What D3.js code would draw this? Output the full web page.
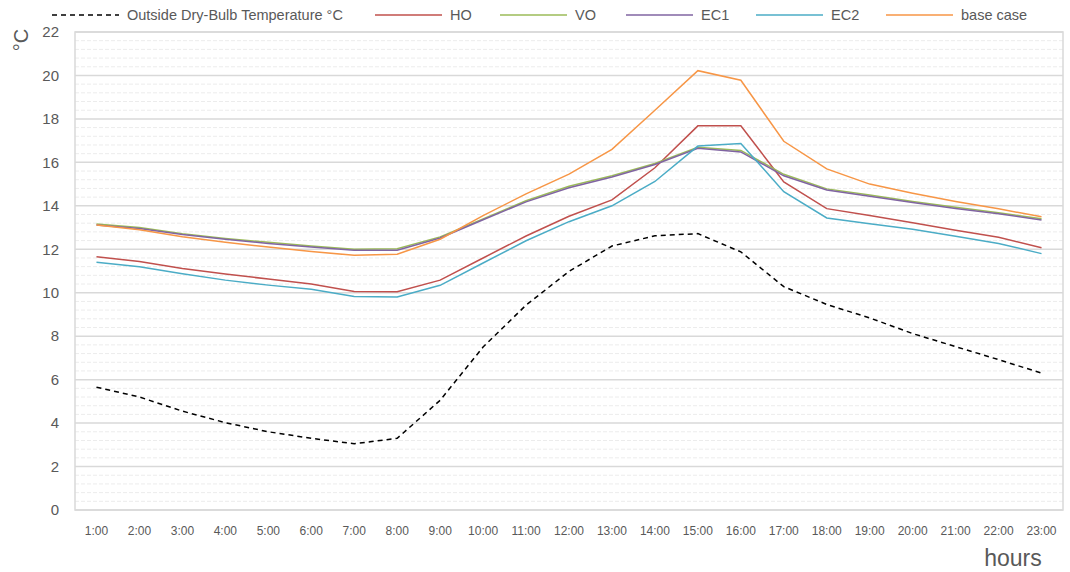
<!DOCTYPE html>
<html>
<head>
<meta charset="utf-8">
<script src="https://cdn.jsdelivr.net/npm/d3@7"></script>
<style>
  body { margin: 0; background: #fff; }
  text { font-family: "Liberation Sans", Arial, sans-serif; fill: #595959; }
</style>
</head>
<body>
<script>
var width = 1070,
    height = 572;

var hours = ["1:00","2:00","3:00","4:00","5:00","6:00","7:00","8:00","9:00","10:00","11:00","12:00",
             "13:00","14:00","15:00","16:00","17:00","18:00","19:00","20:00","21:00","22:00","23:00"];

var outside = [5.65,5.2,4.55,4.02,3.6,3.3,3.05,3.3,5.05,7.5,9.43,10.98,12.15,12.62,12.72,11.88,10.28,9.46,8.84,8.12,7.52,6.92,6.3];
var ho      = [11.66,11.44,11.12,10.86,10.63,10.4,10.06,10.05,10.58,11.6,12.61,13.52,14.27,15.75,17.68,17.68,15.1,13.87,13.55,13.22,12.88,12.55,12.07];
var vo      = [13.16,13.0,12.72,12.5,12.32,12.15,12.0,12.02,12.57,13.4,14.23,14.9,15.38,15.95,16.7,16.55,15.45,14.78,14.5,14.2,13.93,13.68,13.4];
var ec1     = [13.12,12.96,12.68,12.46,12.27,12.1,11.95,11.96,12.52,13.36,14.18,14.83,15.33,15.9,16.65,16.48,15.38,14.73,14.44,14.15,13.88,13.63,13.35];
var ec2     = [11.4,11.2,10.87,10.58,10.35,10.16,9.83,9.8,10.34,11.37,12.39,13.27,14.0,15.12,16.75,16.87,14.65,13.44,13.18,12.92,12.6,12.27,11.8];
var base    = [13.12,12.9,12.58,12.32,12.1,11.9,11.72,11.77,12.46,13.55,14.55,15.46,16.6,18.4,20.22,19.78,16.97,15.7,15.0,14.58,14.2,13.86,13.5];

var seriesNames = ["Outside Dry-Bulb Temperature °C","HO","VO","EC1","EC2","base case"];
var seriesData = [outside, ho, vo, ec1, ec2, base];
var seriesColors = ["#000000","#c0504d","#9bbb59","#8064a2","#4bacc6","#f79646"];

var yTicks = [0,2,4,6,8,10,12,14,16,18,20,22];

var margin = {top: 32, right: 7, bottom: 62, left: 75};
var plotW = width - margin.left - margin.right,
    plotH = height - margin.top - margin.bottom;

var svg = d3.select('body').append('svg')
    .attr('width', width)
    .attr('height', height);

var x = d3.scaleBand().domain(hours).range([margin.left, margin.left + plotW]);
var y = d3.scaleLinear().domain([0, 22]).range([margin.top + plotH, margin.top]);

// minor gridlines every 0.4
var minor = d3.range(0, 22.001, 0.4).filter(function(v) { return Math.abs(v / 2 - Math.round(v / 2)) > 0.01; });
svg.append('g').selectAll('line')
    .data(minor)
    .enter().append('line')
    .attr('x1', margin.left).attr('x2', margin.left + plotW)
    .attr('y1', function(d) { return y(d); }).attr('y2', function(d) { return y(d); })
    .attr('stroke', '#ececec')
    .attr('stroke-width', 1)
    .attr('stroke-dasharray', '4,2');

// major gridlines
svg.append('g').selectAll('line')
    .data(yTicks)
    .enter().append('line')
    .attr('x1', margin.left).attr('x2', margin.left + plotW)
    .attr('y1', function(d) { return y(d); }).attr('y2', function(d) { return y(d); })
    .attr('stroke', '#d9d9d9')
    .attr('stroke-width', 1.5);

// plot border
svg.append('rect')
    .attr('x', margin.left).attr('y', margin.top)
    .attr('width', plotW).attr('height', plotH)
    .attr('fill', 'none')
    .attr('stroke', '#d9d9d9')
    .attr('stroke-width', 1.5);

// y axis
var yAxis = svg.append('g')
    .attr('transform', 'translate(' + margin.left + ',0)')
    .call(d3.axisLeft(y).tickValues(yTicks).tickSize(0).tickPadding(16));
yAxis.select('.domain').remove();
yAxis.selectAll('text').style('font-size', '15px').attr('fill', '#595959');

// x axis
var xAxis = svg.append('g')
    .attr('transform', 'translate(0,' + (margin.top + plotH) + ')')
    .call(d3.axisBottom(x).tickSize(0).tickPadding(16));
xAxis.select('.domain').remove();
xAxis.selectAll('text').style('font-size', '12px').attr('fill', '#595959');

// lines
var line = d3.line()
    .x(function(d, i) { return x(hours[i]) + x.bandwidth() / 2; })
    .y(function(d) { return y(d); });

seriesData.forEach(function(vals, k) {
    svg.append('path')
        .datum(vals)
        .attr('d', line)
        .attr('fill', 'none')
        .attr('stroke', seriesColors[k])
        .attr('stroke-width', 1.5)
        .attr('stroke-dasharray', k === 0 ? '5,4' : null);
});

// legend
var legendX = [52, 375, 500, 626, 756, 886];
var legend = svg.append('g');
seriesNames.forEach(function(name, k) {
    legend.append('line')
        .attr('x1', legendX[k]).attr('x2', legendX[k] + 67)
        .attr('y1', 15).attr('y2', 15)
        .attr('stroke', seriesColors[k])
        .attr('stroke-width', 1.5)
        .attr('stroke-dasharray', k === 0 ? '5,4' : null);
    legend.append('text')
        .attr('x', legendX[k] + 75)
        .attr('y', 20)
        .style('font-size', '14.5px')
        .text(name);
});

// axis titles
svg.append('text')
    .attr('transform', 'translate(28,40) rotate(-90)')
    .attr('text-anchor', 'middle')
    .style('font-size', '20px')
    .text('°C');

svg.append('text')
    .attr('x', 1013)
    .attr('y', 566)
    .attr('text-anchor', 'middle')
    .style('font-size', '23px')
    .text('hours');
</script>
</body>
</html>
